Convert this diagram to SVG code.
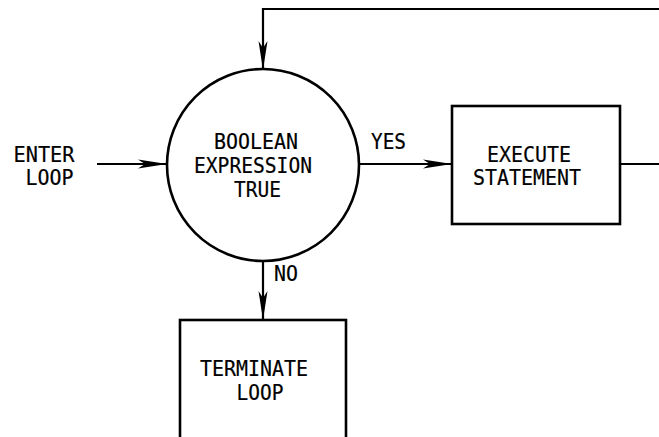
<svg xmlns="http://www.w3.org/2000/svg" width="659" height="437" viewBox="0 0 659 437">
<style>
.ln{fill:none;stroke:#000;stroke-width:2.2}
.shp{fill:#fff;stroke:#000;stroke-width:2.6}
.t{font-family:"DejaVu Sans Mono","Liberation Mono",monospace;font-size:22px;fill:#000;stroke:#000;stroke-width:0.2;text-anchor:middle}
</style>
<defs>
<marker id="ah" markerUnits="userSpaceOnUse" markerWidth="34" markerHeight="12" refX="30" refY="6" orient="auto" viewBox="0 0 34 12">
<path d="M30,6 L1,1.5 L8,6 L1,10.5 Z" fill="#000"/>
</marker>
</defs>
<rect width="659" height="437" fill="#fff"/>
<g id="connectors">
<path class="ln" d="M659,9 H263 V70" marker-end="url(#ah)"/>
<path class="ln" d="M97,164 H167" marker-end="url(#ah)"/>
<path class="ln" d="M359,164 H452" marker-end="url(#ah)"/>
<path class="ln" d="M263,260 V320" marker-end="url(#ah)"/>
<path class="ln" d="M620,164 H659"/>
</g>
<g id="decision">
<circle class="shp" cx="263" cy="165" r="96"/>
<text class="t" x="256" y="149" textLength="84" lengthAdjust="spacingAndGlyphs">BOOLEAN</text>
<text class="t" x="253" y="173" textLength="118" lengthAdjust="spacingAndGlyphs">EXPRESSION</text>
<text class="t" x="257.5" y="197" textLength="47" lengthAdjust="spacingAndGlyphs">TRUE</text>
</g>
<g id="execute">
<rect class="shp" x="452" y="106" width="168" height="118"/>
<text class="t" x="529" y="162" textLength="84" lengthAdjust="spacingAndGlyphs">EXECUTE</text>
<text class="t" x="527" y="185" textLength="108" lengthAdjust="spacingAndGlyphs">STATEMENT</text>
</g>
<g id="terminate">
<rect class="shp" x="180" y="320" width="166" height="130"/>
<text class="t" x="254" y="376" textLength="108" lengthAdjust="spacingAndGlyphs">TERMINATE</text>
<text class="t" x="260" y="400" textLength="47" lengthAdjust="spacingAndGlyphs">LOOP</text>
</g>
<g id="labels">
<text class="t" x="44" y="162" textLength="61" lengthAdjust="spacingAndGlyphs">ENTER</text>
<text class="t" x="49.5" y="185" textLength="48" lengthAdjust="spacingAndGlyphs">LOOP</text>
<text class="t" x="388.5" y="149" textLength="35" lengthAdjust="spacingAndGlyphs">YES</text>
<text class="t" x="286" y="281" textLength="24" lengthAdjust="spacingAndGlyphs">NO</text>
</g>
</svg>
